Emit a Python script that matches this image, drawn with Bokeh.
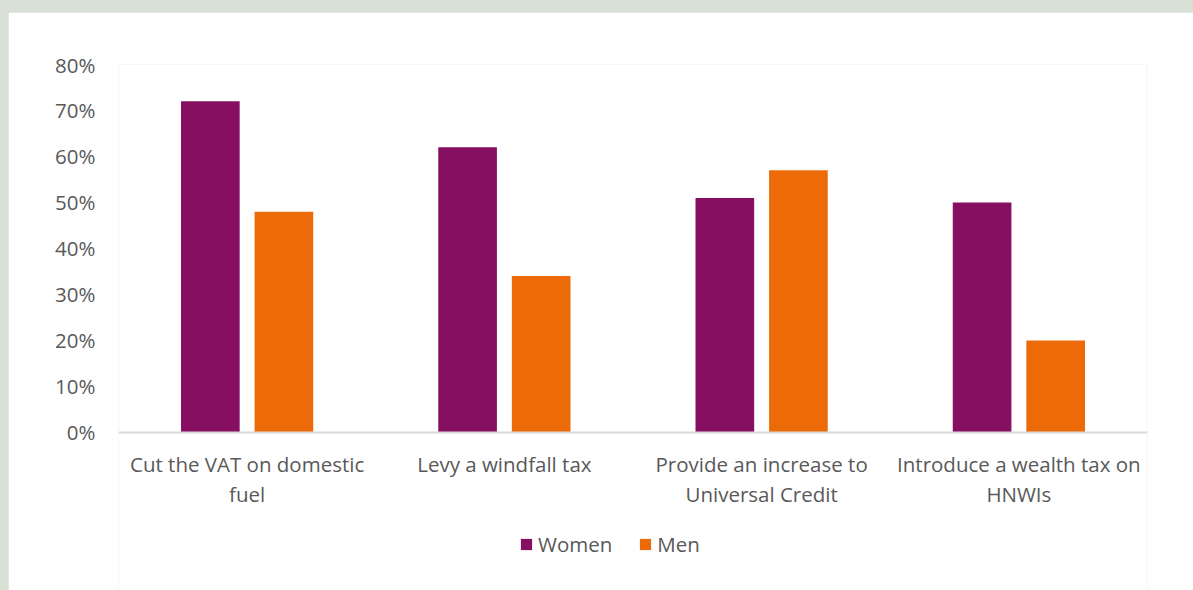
from bokeh.plotting import figure
from bokeh.models import ColumnDataSource, FixedTicker, PrintfTickFormatter, Legend, LegendItem, Range1d
from bokeh.layouts import column
from bokeh.embed import file_html
from bokeh.resources import INLINE

categories = ["Cut the VAT on domestic fuel", "Levy a windfall tax",
              "Provide an increase to Universal Credit", "Introduce a wealth tax on HNWIs"]
tick_labels = ["Cut the VAT on domestic\nfuel", "Levy a windfall tax",
               "Provide an increase to\nUniversal Credit", "Introduce a wealth tax on\nHNWIs"]
women = [72, 62, 51, 50]
men = [48, 34, 57, 20]
y_ticks = [0, 10, 20, 30, 40, 50, 60, 70, 80]

FONT = "Open Sans"
GRAY = "#595959"
FS = "20.5px"

pos = [i + 0.5 for i in range(len(categories))]
src = ColumnDataSource(dict(x=pos, cat=categories, women=women, men=men,
                            xw=[v - 0.143 for v in pos], xm=[v + 0.143 for v in pos]))

# frame spans from the 80% line down to the bottom of the canvas; 0% sits at 4.6 px/unit * 80 below top
p = figure(x_range=Range1d(0, len(categories)), y_range=Range1d(-34.35, 80), width=1185, height=578,
           output_backend="svg", toolbar_location=None,
           min_border_left=110, min_border_right=46, min_border_top=52, min_border_bottom=0)
p.margin = (12, 0, 0, 8)
p.outline_line_color = None
p.background_fill_color = "white"
p.border_fill_color = "white"
p.grid.visible = False

r1 = p.vbar(x="xw", top="women", width=0.228, source=src, color="#870F61", line_color=None)
r2 = p.vbar(x="xm", top="men", width=0.228, source=src, color="#EC6B08", line_color=None)

p.yaxis.ticker = FixedTicker(ticks=y_ticks)
p.yaxis.formatter = PrintfTickFormatter(format="%d%%")
p.yaxis.axis_line_color = None
p.yaxis.major_tick_line_color = None
p.yaxis.minor_tick_line_color = None
p.yaxis.major_label_standoff = 17
p.yaxis.major_label_text_font = FONT
p.yaxis.major_label_text_font_size = FS
p.yaxis.major_label_text_color = GRAY

p.xaxis.fixed_location = 0
p.xaxis.ticker = FixedTicker(ticks=pos)
p.xaxis.axis_line_color = "#D9D9D9"
p.xaxis.axis_line_width = 2
p.xaxis.major_tick_line_color = None
p.xaxis.minor_tick_line_color = None
p.xaxis.major_label_overrides = {v: t for v, t in zip(pos, tick_labels)}
p.xaxis.major_label_standoff = 12
p.xaxis.major_label_text_font = FONT
p.xaxis.major_label_text_font_size = FS
p.xaxis.major_label_text_color = GRAY
p.xaxis.major_label_text_line_height = 1.06

legend = Legend(items=[LegendItem(label="Women", renderers=[r1]),
                       LegendItem(label="Men", renderers=[r2])],
                orientation="horizontal", location=(401, 32),
                label_text_font=FONT, label_text_font_size=FS, label_text_color=GRAY,
                label_height=20, glyph_width=14, glyph_height=14, spacing=26, label_standoff=5,
                border_line_color=None, background_fill_alpha=0, margin=0, padding=0)
p.add_layout(legend, "center")

layout = column(p, styles={"background-color": "#D9E0D5"})
open("out.html", "w").write(file_html(layout, INLINE))
